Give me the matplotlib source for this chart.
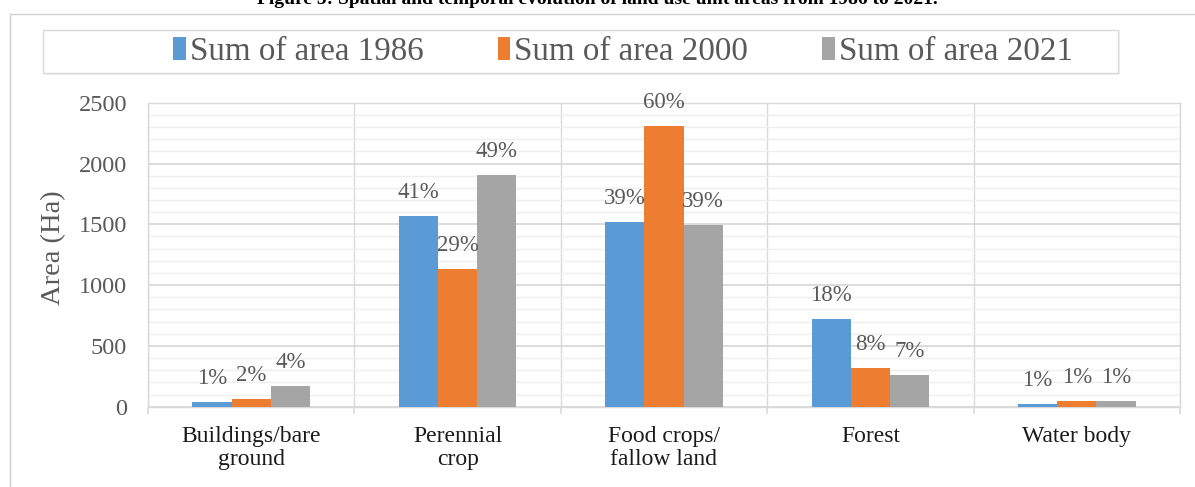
import matplotlib
matplotlib.use("Agg")
import matplotlib.pyplot as plt
import numpy as np
from matplotlib.patches import Patch, Rectangle
from matplotlib.lines import Line2D
from matplotlib.ticker import MultipleLocator

categories = ["Buildings/bare\nground", "Perennial\ncrop", "Food crops/\nfallow land", "Forest", "Water body"]
series_names = ["Sum of area 1986", "Sum of area 2000", "Sum of area 2021"]
area_1986 = [36, 1571, 1516, 719, 20]
area_2000 = [61, 1132, 2311, 316, 45]
area_2021 = [170, 1905, 1494, 258, 45]
pct_1986 = ["1%", "41%", "39%", "18%", "1%"]
pct_2000 = ["2%", "29%", "60%", "8%", "1%"]
pct_2021 = ["4%", "49%", "39%", "7%", "1%"]
colors = ["#5B9BD5", "#ED7D31", "#A5A5A5"]

plt.rcParams['font.family'] = ['Liberation Serif', 'DejaVu Serif']

fig = plt.figure(figsize=(11.95, 4.87), dpi=100)
ax = fig.add_axes([148/1195, 1-406.7/487, 1032/1195, 304/487])

x = np.arange(len(categories))
w = 0.19
series = [area_1986, area_2000, area_2021]
pcts = [pct_1986, pct_2000, pct_2021]
for i, (vals, labs, col) in enumerate(zip(series, pcts, colors)):
    pos = x + (i - 1) * w
    ax.bar(pos, vals, width=w, color=col, zorder=3)
    for px, v, lab in zip(pos, vals, labs):
        ax.annotate(lab, (px, v), xytext=(0, 17), textcoords="offset points",
                    ha="center", va="center", fontsize=16.5, color="#595959", zorder=4)

ax.set_xlim(-0.5, 4.5)
ax.set_ylim(0, 2500)
ax.yaxis.set_major_locator(MultipleLocator(500))
ax.yaxis.set_minor_locator(MultipleLocator(100))
ax.set_xticks(x)
ax.set_xticklabels(categories, fontsize=17, color="#1a1a1a", linespacing=1.1)
ax.set_xticks(np.arange(-0.5, 5.0, 1.0), minor=True)
ax.tick_params(axis="x", which="major", length=0, pad=14)
ax.tick_params(axis="x", which="minor", length=5, color="#d9d9d9", width=1.2)
ax.tick_params(axis="y", which="both", length=0, pad=15, labelsize=17.5, labelcolor="#595959")
ax.grid(axis="y", which="major", color="#d9d9d9", linewidth=1.3, zorder=0)
ax.grid(axis="y", which="minor", color="#eeeeee", linewidth=1.0, zorder=0)
ax.grid(axis="x", which="minor", color="#d9d9d9", linewidth=1.0, zorder=0)
ax.set_axisbelow(True)
for s in ax.spines.values():
    s.set_color("#d9d9d9")
    s.set_linewidth(1.0)

fig.text(54/1195, 1-248/487, "Area (Ha)", rotation=90, ha="center", va="center",
         fontsize=20.5, color="#595959")

fig.text(597.5/1195, 1-4/487, "Figure 5: Spatial and temporal evolution of land use unit areas from 1986 to 2021.",
         ha="center", va="baseline", fontsize=14, fontweight="bold", color="black")

# chart frame
fig.add_artist(Line2D([10/1195, 1.0], [1-14/487, 1-14/487], transform=fig.transFigure,
                      color="#d0d0d0", linewidth=1.0))
fig.add_artist(Line2D([10/1195, 10/1195], [0, 1-14/487], transform=fig.transFigure,
                      color="#d0d0d0", linewidth=1.0))

# legend box
fig.add_artist(Rectangle((45/1195, 1-75/487), 1075/1195, 43/487, transform=fig.transFigure,
                         facecolor="#f2f2f2", edgecolor="none", zorder=1))
fig.add_artist(Rectangle((43/1195, 1-73/487), 1075/1195, 43/487, transform=fig.transFigure,
                         facecolor="white", edgecolor="#d9d9d9", linewidth=1.0, zorder=2))

handles = [Patch(facecolor=c, edgecolor="none") for c in colors]
leg = fig.legend(handles, series_names, loc="center", bbox_to_anchor=(623/1195, 1-51.5/487),
                 ncol=3, frameon=False, fontsize=23.8, handlelength=0.38, handleheight=0.68,
                 handletextpad=0.12, columnspacing=2.25, labelcolor="#595959")
leg.set_zorder(3)

fig.savefig("out.png", dpi=100)
